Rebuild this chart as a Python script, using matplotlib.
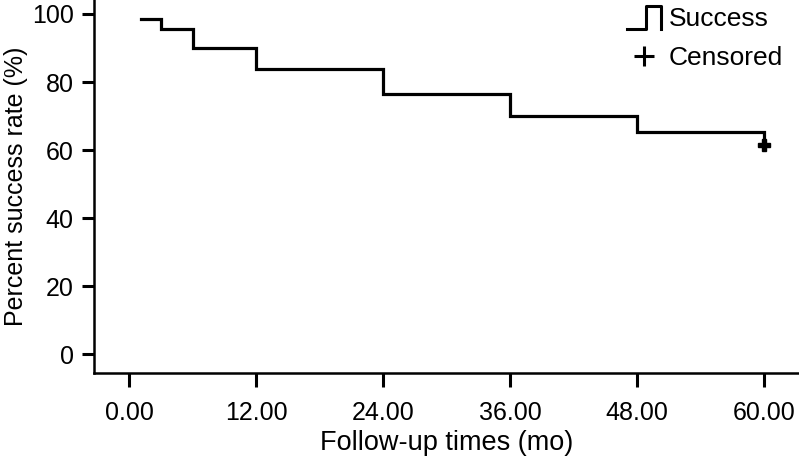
import matplotlib.pyplot as plt
from matplotlib.legend_handler import HandlerBase
from matplotlib.lines import Line2D

plt.rcParams['font.family'] = ['Liberation Sans', 'DejaVu Sans']

# step times (mo) and survival (%)
times = [1.1, 3.0, 6.0, 12.0, 24.0, 36.0, 48.0, 60.0]
rates = [98.6, 95.7, 89.9, 83.8, 76.4, 70.1, 65.4, 61.5]
censor_t = [60.0]
censor_y = [61.5]
xticks = [0, 12, 24, 36, 48, 60]
yticks = [0, 20, 40, 60, 80, 100]


class StepHandler(HandlerBase):
    def create_artists(self, legend, orig_handle, xdescent, ydescent,
                       width, height, fontsize, trans):
        x0 = -xdescent
        y0 = -ydescent - 0.2 * height
        y1 = -ydescent + 1.05 * height
        xs = [x0, x0 + 0.55 * width, x0 + 0.55 * width, x0 + width, x0 + width]
        ys = [y0, y0, y1, y1, y0]
        ln = Line2D(xs, ys, color='black', lw=2.2, transform=trans)
        return [ln]


fig = plt.figure(figsize=(7.99, 4.62), dpi=100)
ax = fig.add_axes([0.1176, 0.1926, 0.8824, 0.8074])

# build step coordinates from the data
xs = [times[0]]
ys = [rates[0]]
for t, r in zip(times[1:], rates[1:]):
    xs += [t, t]
    ys += [ys[-1], r]
ax.plot(xs, ys, color='black', lw=2.3, solid_joinstyle='miter')
ax.plot(censor_t, censor_y, marker='P', color='black', ms=9, ls='none')

ax.set_xlim(-3.36, 63.3)
ax.set_ylim(-5.5, 104.1)
ax.set_xticks(xticks)
ax.set_xticklabels([f"{v:.2f}" for v in xticks])
ax.set_yticks(yticks)
for s in ['top', 'right']:
    ax.spines[s].set_visible(False)
for s in ['left', 'bottom']:
    ax.spines[s].set_linewidth(1.8)
ax.tick_params(axis='x', length=10, width=2.2, labelsize=18, pad=10)
ax.tick_params(axis='y', length=8.5, width=2.2, labelsize=18, pad=6)
ax.set_xlabel("Follow-up times (mo)", fontsize=19.5, labelpad=4)
ax.set_ylabel("Percent success rate (%)", fontsize=18, labelpad=3)

h_step = Line2D([], [], color='black')
h_cens = Line2D([], [], color='black', marker='+', ms=15, mew=2.2, ls='none')
ax.legend([h_step, h_cens], ['Success', 'Censored'],
          handler_map={h_step: StepHandler()},
          loc='upper right', bbox_to_anchor=(1.0, 1.025), frameon=False,
          fontsize=19, handlelength=1.3, handletextpad=0.3, labelspacing=0.6,
          borderaxespad=0.2)

fig.savefig("out.png", dpi=100)
